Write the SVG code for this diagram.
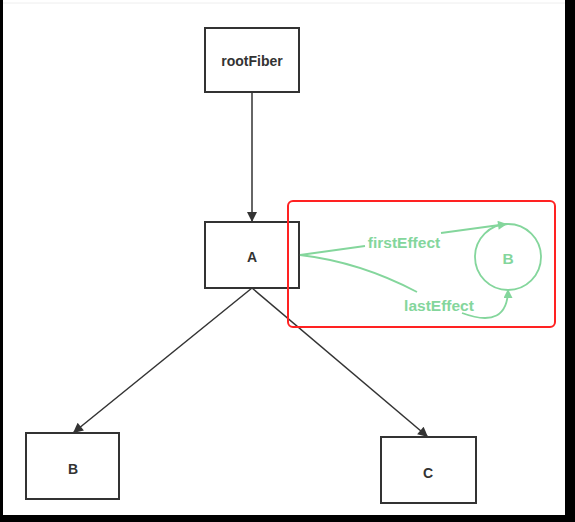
<svg xmlns="http://www.w3.org/2000/svg" width="575" height="522" viewBox="0 0 575 522">
<style>
.box{fill:#fff;stroke:#333;stroke-width:2}
.lbl{font-family:"Liberation Sans",Arial,sans-serif;font-weight:bold;font-size:14px;fill:#333;text-anchor:middle;dominant-baseline:central}
.edge{fill:none;stroke:#333;stroke-width:1.5}
.g{fill:none;stroke:#84d69c;stroke-width:1.8}
.glbl{font-family:"Liberation Sans",Arial,sans-serif;font-weight:bold;font-size:15.5px;fill:#84d69c;text-anchor:middle;dominant-baseline:central}
</style>
<defs>
<marker id="ah" viewBox="0 0 10 10" refX="10" refY="5" markerWidth="12" markerHeight="10" markerUnits="userSpaceOnUse" orient="auto"><path d="M0,0L10,5L0,10z" fill="#333"/></marker>
<marker id="gh" viewBox="0 0 10 10" refX="10" refY="5" markerWidth="11" markerHeight="9" markerUnits="userSpaceOnUse" orient="auto"><path d="M0,0L10,5L0,10z" fill="#84d69c"/></marker>
</defs>
<rect x="0" y="0" width="575" height="522" fill="#000"/>
<rect x="3" y="0" width="562" height="515" fill="#fff"/>
<line x1="3" y1="3" x2="565" y2="3" stroke="#eee" stroke-width="1"/>
<g id="connectors">
<line class="edge" x1="252" y1="92" x2="252" y2="222" marker-end="url(#ah)"/>
<line class="edge" x1="252" y1="288" x2="73" y2="433" marker-end="url(#ah)"/>
<line class="edge" x1="252" y1="288" x2="428" y2="437" marker-end="url(#ah)"/>
</g>
<g id="rootFiber"><rect class="box" x="205" y="28" width="94" height="64"/><text class="lbl" x="252" y="61">rootFiber</text></g>
<g id="A"><rect class="box" x="205" y="222" width="94" height="66"/><text class="lbl" x="252" y="257">A</text></g>
<g id="B"><rect class="box" x="26" y="433" width="93" height="66"/><text class="lbl" x="73" y="469">B</text></g>
<g id="C"><rect class="box" x="381" y="437" width="95" height="66"/><text class="lbl" x="428" y="473">C</text></g>
<g id="highlight"><rect x="288" y="201" width="267" height="126" rx="5" fill="none" stroke="#f22" stroke-width="2"/></g>
<g id="effects">
<circle class="g" cx="508" cy="257" r="33"/>
<text class="glbl" x="508" y="258">B</text>
<path class="g" d="M300,255 L365,246"/>
<path class="g" d="M441,233 L507,224" marker-end="url(#gh)"/>
<text class="glbl" x="404" y="242">firstEffect</text>
<path class="g" d="M300,255 Q360,262 417,292"/>
<path class="g" d="M462,313 Q508,330 508,289" marker-end="url(#gh)"/>
<text class="glbl" x="439" y="305">lastEffect</text>
</g>
</svg>
